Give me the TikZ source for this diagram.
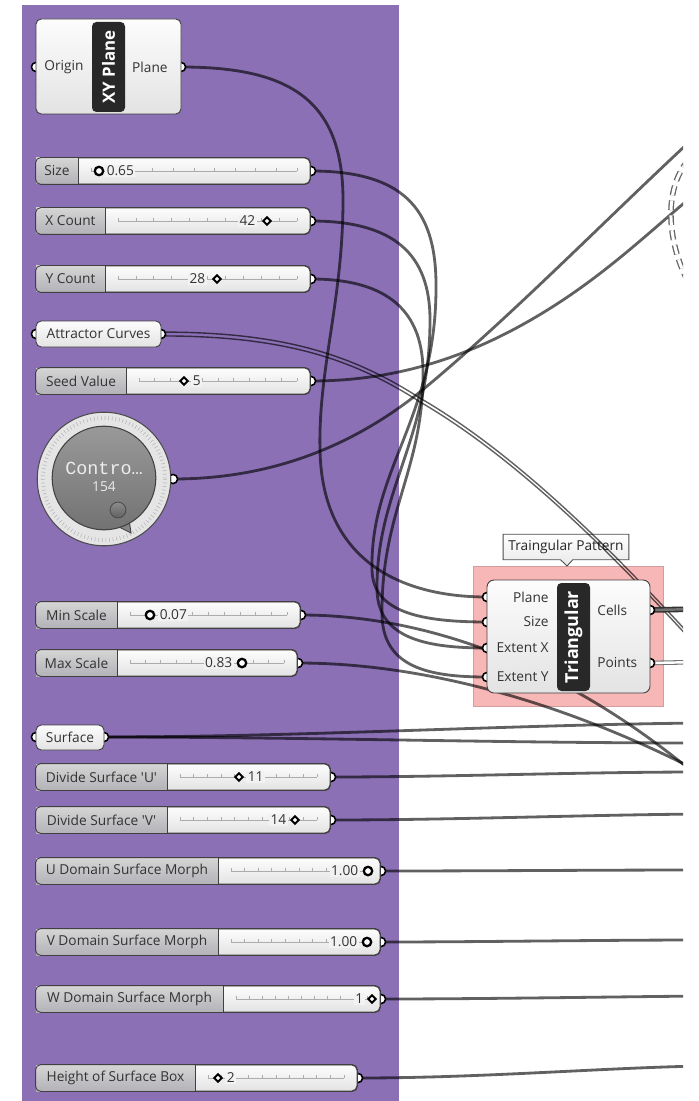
\documentclass[tikz,border=0pt]{standalone}
\usepackage{fontspec}
\setmainfont{Open Sans}
\newfontfamily\knobfont{Liberation Mono}
\usetikzlibrary{positioning,fit,shapes.callouts}

\definecolor{ghpurple}{RGB}{139,112,181}
\definecolor{ghpink}{RGB}{248,183,183}
\definecolor{ghband}{RGB}{40,40,40}

\pgfdeclarelayer{panel}
\pgfdeclarelayer{wires}
\pgfsetlayers{panel,wires,main}

\begin{document}
\begin{tikzpicture}[
  x=0.02cm, y=-0.02cm,
  font=\fontsize{7.8}{9}\selectfont,
  body/.style={draw=black!75, line width=0.5pt, rounded corners=3pt,
               top color=gray!2, bottom color=gray!22, inner sep=0pt, text=black!80},
  lblpart/.style={top color=gray!33, bottom color=blue!4!gray!58, inner sep=0pt},
  band/.style={fill=ghband, rounded corners=2.5pt, inner sep=0pt},
  bandtxt/.style={rotate=90, text=white, inner sep=0pt,
                  font=\fontsize{10.2}{12}\selectfont\bfseries},
  txt/.style={inner sep=0pt, text=black!80},
  port/.style={circle, draw=black, line width=0.9pt, fill=white,
               minimum size=5.2pt, inner sep=0pt},
  knobO/.style={circle, draw=black, line width=1.3pt, fill=white,
                minimum size=4.8pt, inner sep=0pt},
  knobD/.style={rectangle, rotate=45, draw=black, line width=1.1pt, fill=white,
                minimum size=3pt, inner sep=0pt},
  track/.style={draw=gray!65, line width=0.35pt},
  wire/.style={draw=black, line width=1.6pt, opacity=0.62},
  listwire/.style={draw=black, line width=0.8pt, opacity=0.62},
]
\useasboundingbox (0,0) rectangle (698,1101);

% purple group, pink group and tooltip sit under the wires
\begin{pgfonlayer}{panel}
  \fill[white] (0,0) rectangle (698,1101);
  \fill[ghpurple] (22,5) rectangle (399,1101);
  \node[fill=ghpink, draw=ghpink!85!black, line width=0.4pt, inner sep=0pt,
        fit={(473,566) (663,706)}] (grp) {};
  \node[rectangle callout, callout absolute pointer={(567,566)},
        callout pointer width=7pt, draw=black!70, line width=0.5pt,
        top color=white, bottom color=gray!18, inner xsep=3pt,
        minimum height=11.5pt, text=black!85] (tip) at (566,547) {Traingular Pattern};
\end{pgfonlayer}

% XY Plane
\node[port] (xy-in) at (36,67) {};
\node[port] (xy-out) at (181,67) {};
\node[body, fit={(36,19) (181,114)}] (xy) {};
\node[band, fit={(92,22) (125,112)}] (xy-band) {};
\node[bandtxt, font=\fontsize{9.6}{11}\selectfont\bfseries] at (xy-band) {XY Plane};
\node[txt, anchor=west] (xy-origin) at (44,67) {Origin};
\node[txt, anchor=east] (xy-plane) at (168,67) {Plane};

% number sliders
\foreach \nm/\yy/\xr/\xl/\xk/\kn/\vx/\va/\val/\lbl in {
  size/171/310/78/99/knobO/105/west/0.65/Size,
  xcount/221/310/105/267/knobD/257/east/42/X Count,
  ycount/279/310/105/217/knobD/207/east/28/Y Count,
  seed/381/310/126/184/knobD/191/west/5/Seed Value,
  minsc/615/300/117/150/knobO/158/west/0.07/Min Scale,
  maxsc/663/297/117/242/knobO/234/east/0.83/Max Scale,
  divu/777/330/167/239/knobD/246/west/11/Divide Surface \textquotesingle U\textquotesingle,
  divv/820/330/167/295/knobD/288/east/14/Divide Surface \textquotesingle V\textquotesingle,
  udom/871/380/218/368/knobO/360/east/1.00/U Domain Surface Morph,
  vdom/942/380/218/367/knobO/359/east/1.00/V Domain Surface Morph,
  wdom/999/380/223/372/knobD/365/east/1/W Domain Surface Morph,
  hbox/1078/357/195/218/knobD/225/west/2/Height of Surface Box}
{
  \node[port] (\nm-out) at (\xr+1,\yy) {};
  \node[body, fit={(36,\yy-13) (\xr,\yy+13)}] (\nm) {};
  \node[lblpart, fit={(36,\yy-13) (\xl,\yy+13)}] (\nm-lb) {};
  \draw[black!75, line width=0.5pt] (\xl,\yy-13) -- (\xl,\yy+13);
  \draw[black!75, line width=0.5pt, rounded corners=3pt]
    (\nm.north west) rectangle (\nm.south east);
  \node[txt] at (\nm-lb) {\lbl};
  \draw[track] (\xl+13,\yy) -- (\xr-13,\yy);
  \foreach \t in {0,...,10}
    \draw[track] ({\xl+13+\t*(\xr-\xl-26)/10},\yy-3) -- ++(0,3);
  \node[txt, fill=gray!10, inner sep=0.8pt, anchor=\va] (\nm-val) at (\vx,\yy) {\val};
  \node[\kn] (\nm-knob) at (\xk,\yy) {};
}

% curve and surface params
\node[port] (attr-in) at (36,334) {};
\node[port] (attr-out) at (161,334) {};
\node[body, fit={(36,321) (161,347)}] (attr) {};
\node[txt] at (attr.center) {Attractor Curves};
\node[port] (surface-in) at (36,737) {};
\node[port] (surface-out) at (104,737) {};
\node[body, fit={(36,725) (104,750)}] (surface) {};
\node[txt] at (surface.center) {Surface};

% control knob
\node[port] (knob-out) at (173,479) {};
\node[circle, draw=black!70, line width=0.6pt, fill=gray!20, minimum size=76pt,
      inner sep=0pt] (knob) at (104,479) {};
\draw[gray!55, line width=2.2pt, dash pattern=on 0.35pt off 1.7pt] (knob.center) circle (61);
\fill[black!48, draw=black!75, line width=0.5pt] (117,526) -- (131,533) -- (129,519) -- cycle;
\node[circle, draw=black!75, line width=0.6pt, top color=black!40, bottom color=black!55,
      minimum size=59pt, inner sep=0pt] (knob-disk) at (104,478) {};
\node[circle, draw=black!70, line width=0.5pt, top color=black!45, bottom color=black!62,
      minimum size=9pt, inner sep=0pt] (knob-dot) at (118,510) {};
\node[font={\knobfont\fontsize{10.5}{12}\selectfont}, text=gray!15, inner sep=0pt]
  (knob-name) at (104,468) {Contro…};
\node[text=gray!15, inner sep=0pt] (knob-val) at (104,487) {154};

% Triangular component
\node[port] (tri-plane) at (487,597) {};
\node[port] (tri-size) at (487,622) {};
\node[port] (tri-ex) at (487,648) {};
\node[port] (tri-ey) at (487,677) {};
\node[port] (tri-cells) at (650,610) {};
\node[port] (tri-pts) at (650,663) {};
\node[body, rounded corners=4pt, fit={(487,580) (650,693)}] (tri) {};
\node[band, fit={(557,583) (590,691)}] (tri-band) {};
\node[bandtxt] at (tri-band) {Triangular};
\node[txt, anchor=east] (tri-l1) at (549,597) {Plane};
\node[txt, anchor=east] (tri-l2) at (549,622) {Size};
\node[txt, anchor=east] (tri-l3) at (549,648) {Extent X};
\node[txt, anchor=east] (tri-l4) at (549,677) {Extent Y};
\node[txt, anchor=west] (tri-r1) at (597,610) {Cells};
\node[txt, anchor=west] (tri-r2) at (597,663) {Points};

% free ends of the wires, past the cut on the right
\coordinate (e-knob) at (700,132);
\coordinate (e-seed) at (700,190);
\coordinate (e-attr) at (700,648);
\coordinate (e-cells) at (700,609);
\coordinate (e-pts) at (700,662);
\coordinate (e-min) at (700,778);
\coordinate (e-max) at (700,772);
\coordinate (e-srf1) at (700,723);
\coordinate (e-srf2) at (700,743);
\coordinate (e-divu) at (700,772);
\coordinate (e-divv) at (700,814);
\coordinate (e-udom) at (700,870);
\coordinate (e-vdom) at (700,940);
\coordinate (e-wdom) at (700,996);
\coordinate (e-hbox) at (700,1066);
\coordinate (e-hid1) at (700,150);
\coordinate (e-hid2) at (700,300);

% wires
\begin{pgfonlayer}{wires}
\begin{scope}
\clip (0,0) rectangle (683,1101);
\draw[wire] (xy-out.center) .. controls (290,67) and (343,100) .. (343,200)
  .. controls (343,300) and (318,370) .. (320,450)
  .. controls (322,560) and (400,597) .. (tri-plane.center);
\draw[wire] (size-out.center) .. controls (410,171) and (437,215) .. (436,290)
  .. controls (435,420) and (370,470) .. (372,570)
  .. controls (373,612) and (420,622) .. (tri-size.center);
\draw[wire] (xcount-out.center) .. controls (395,221) and (430,255) .. (430,320)
  .. controls (430,440) and (376,490) .. (377,590)
  .. controls (378,640) and (430,648) .. (tri-ex.center);
\draw[wire] (ycount-out.center) .. controls (380,279) and (422,305) .. (423,370)
  .. controls (424,470) and (381,510) .. (382,615)
  .. controls (383,668) and (430,677) .. (tri-ey.center);
\foreach \s in {1.1pt,-1.1pt}
  \draw[listwire, transform canvas={yshift=\s}] (attr-out.center)
    .. controls (280,334) and (350,355) .. (420,400)
    .. controls (520,458) and (620,560) .. (e-attr);
\draw[wire] (seed-out.center) .. controls (400,381) and (480,355) .. (563,300)
  .. controls (620,262) and (660,222) .. (e-seed);
\draw[wire] (knob-out.center) .. controls (280,479) and (360,440) .. (420,392)
  .. controls (510,318) and (610,215) .. (e-knob);
\draw[wire] (minsc-out.center) .. controls (420,615) and (560,660) .. (e-min);
\draw[wire] (maxsc-out.center) .. controls (420,663) and (560,700) .. (e-max);
\draw[wire] (surface-out.center) .. controls (300,737) and (500,725) .. (e-srf1);
\draw[wire] (surface-out.center) .. controls (300,737) and (500,743) .. (e-srf2);
\draw[wire] (divu-out.center) .. controls (450,777) and (580,772) .. (e-divu);
\draw[wire] (divv-out.center) .. controls (450,820) and (580,815) .. (e-divv);
\draw[wire] (udom-out.center) .. controls (480,871) and (600,870) .. (e-udom);
\draw[wire] (vdom-out.center) .. controls (480,942) and (600,940) .. (e-vdom);
\draw[wire] (wdom-out.center) .. controls (480,999) and (600,997) .. (e-wdom);
\draw[wire] (hbox-out.center) .. controls (480,1078) and (600,1068) .. (e-hbox);
\draw[black!80, line width=0.9pt, double=black!55, double distance=1.4pt]
  (tri-cells.center) -- (e-cells);
\draw[black!55, line width=0.6pt, double=white, double distance=1.4pt]
  (tri-pts.center) -- (e-pts);
\draw[black!60, line width=0.75pt, double=white, double distance=1.7pt,
      dash pattern=on 5.5pt off 3pt]
  (e-hid1) .. controls (655,180) and (668,260) .. (e-hid2);
\end{scope}
\end{pgfonlayer}
\end{tikzpicture}
\end{document}
